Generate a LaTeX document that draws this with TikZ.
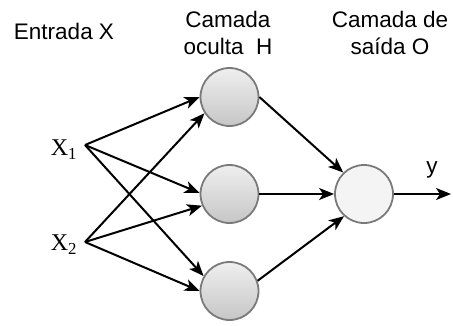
\documentclass[tikz,border=0pt]{standalone}
\usepackage{fontspec}
\setmainfont{Liberation Sans}
\newfontfamily\serifx{Liberation Serif}
\usetikzlibrary{arrows.meta}
\definecolor{ringgray}{HTML}{7A7A7A}
\definecolor{topg}{HTML}{EFEFEF}
\definecolor{botg}{HTML}{C6C6C6}
\definecolor{outfill}{HTML}{F4F4F4}
\begin{document}
\begin{tikzpicture}[x=1pt,y=1pt,
  neuron/.style={circle,draw=ringgray,line width=1.8pt,minimum size=58pt,inner sep=0pt},
  hid/.style={neuron,top color=topg,bottom color=botg},
  outn/.style={neuron,fill=outfill},
  conn/.style={line width=2pt,-{Stealth[length=15pt,width=12pt,inset=4pt]}},
  title/.style={font=\fontsize{22.5}{27}\selectfont,align=center,inner sep=0pt},
  inlab/.style={font=\fontsize{24}{28}\selectfont\serifx,inner sep=0pt}
]
\useasboundingbox (0,0) rectangle (453,-325);
\node[title] (t1) at (64,-31) {Entrada X};
\node[title] (t2) at (228,-33) {Camada\\oculta\ \ H};
\node[title] (t3) at (390,-33) {Camada de\\saída O};

\node[hid] (h1) at (229.5,-97) {};
\node[hid] (h2) at (229.5,-194) {};
\node[hid] (h3) at (229.5,-291) {};
\node[outn] (o) at (364,-194) {};

\node[inlab] (x1l) at (64,-150) {X\textsubscript{1}};
\node[inlab] (x2l) at (64,-245) {X\textsubscript{2}};
\coordinate (x1) at (85,-145);
\coordinate (x2) at (85,-242);

\draw[conn] (x1) -- (h1.180);
\draw[conn] (x2) -- (h1.213);
\draw[conn] (x1) -- (h2.178);
\draw[conn] (x2) -- (h2.203);
\draw[conn] (x1) -- (h3.150);
\draw[conn] (x2) -- (h3.180);

\draw[conn] (h1.0) -- (o.134);
\draw[conn] (h2.0) -- (o.180);
\draw[conn] (h3.20) -- (o.228);

\coordinate (yend) at (451,-194);
\draw[conn] (o.0) -- (yend);
\node[title] (ylab) at (432,-170) {y};
\end{tikzpicture}
\end{document}
